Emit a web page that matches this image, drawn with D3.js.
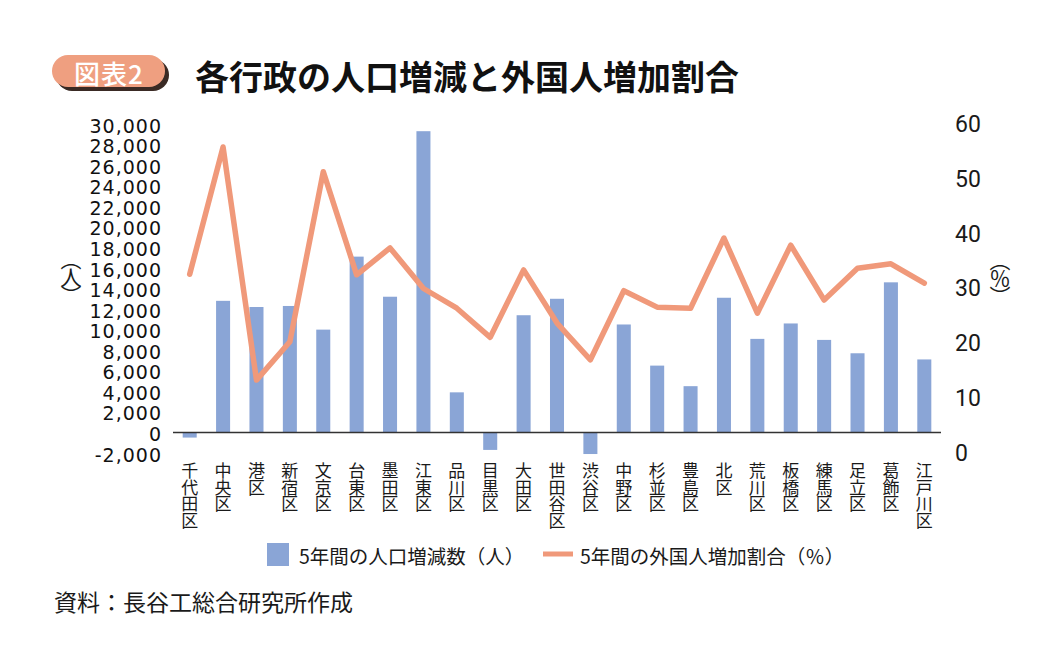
<!DOCTYPE html>
<html>
<head>
<meta charset="utf-8">
<script src="https://cdn.jsdelivr.net/npm/d3@7"></script>
<style>
  body { margin: 0; background: #fff; }
  svg { display: block; }
  .cjk { font-family: "Noto Sans CJK JP", "Noto Sans", sans-serif; }
</style>
</head>
<body>
<svg id="chart" width="1062" height="663"></svg>
<script>
// 区ごとの値
let wards = ["千代田区", "中央区", "港区", "新宿区", "文京区", "台東区", "墨田区", "江東区",
    "品川区", "目黒区", "大田区", "世田谷区", "渋谷区", "中野区", "杉並区", "豊島区", "北区",
    "荒川区", "板橋区", "練馬区", "足立区", "葛飾区", "江戸川区"];
let pop_change = [-500, 12800, 12200, 12300, 10000, 17100, 13200, 29300, 3900, -1700, 11400,
    13000, -2100, 10500, 6500, 4500, 13100, 9100, 10600, 9000, 7700, 14600, 7100];
let foreign_rate = [32.6, 55.8, 13.3, 20.3, 51.3, 32.5, 37.4, 30.0, 26.4, 21.1, 33.4, 23.7,
    17.0, 29.6, 26.6, 26.4, 39.2, 25.5, 37.9, 27.9, 33.7, 34.5, 31.0];
let left_ticks = d3.range(-2000, 30001, 2000);
let right_ticks = [0, 10, 20, 30, 40, 50, 60];

let bar_color = "#8aa5d6";
let line_color = "#f0997a";

let svg = d3.select("#chart");

let x = d3.scaleBand()
    .domain(wards)
    .range([173, 941])
    .paddingInner(0.58)
    .paddingOuter(0.29);
let y_left = d3.scaleLinear().domain([-2000, 30000]).range([453, 124]);
let y_right = d3.scaleLinear().domain([0, 60]).range([453, 124]);

// タイトル
let badge = svg.append("g");
badge.append("rect")
    .attr("x", 56).attr("y", 59).attr("width", 113).attr("height", 32)
    .attr("rx", 16).attr("fill", "#3a2a24");
badge.append("rect")
    .attr("x", 52).attr("y", 55).attr("width", 113).attr("height", 32)
    .attr("rx", 16).attr("fill", "#ef9f80");
badge.append("text")
    .attr("class", "cjk")
    .attr("x", 109).attr("y", 72)
    .attr("text-anchor", "middle")
    .attr("dominant-baseline", "central")
    .attr("fill", "#fff")
    .attr("font-size", 26)
    .attr("font-weight", 500)
    .attr("letter-spacing", 1)
    .text("図表2");

svg.append("text")
    .attr("class", "cjk")
    .attr("x", 195).attr("y", 75)
    .attr("dominant-baseline", "central")
    .attr("font-size", 34)
    .attr("font-weight", 700)
    .attr("fill", "#111")
    .text("各行政の人口増減と外国人増加割合");

// 棒
svg.append("g")
    .selectAll("rect")
    .data(pop_change)
    .enter().append("rect")
        .attr("x", (d, i) => x(wards[i]))
        .attr("width", x.bandwidth())
        .attr("y", d => y_left(Math.max(0, d)))
        .attr("height", d => Math.abs(y_left(d) - y_left(0)))
        .attr("fill", bar_color);

// 左軸
let left_axis = svg.append("g")
    .attr("transform", "translate(164, 2)")
    .call(d3.axisLeft(y_left).tickValues(left_ticks).tickSize(0).tickPadding(2)
        .tickFormat(d => d3.format(",")(d).replace("−", "-")));
left_axis.select(".domain").remove();
left_axis.selectAll("text")
    .attr("font-family", "DejaVu Sans, sans-serif")
    .attr("font-size", 19)
    .attr("letter-spacing", 1)
    .attr("fill", "#111");

// 右軸
let right_axis = svg.append("g")
    .attr("transform", "translate(953, 0)")
    .call(d3.axisRight(y_right).tickValues(right_ticks).tickSize(0).tickPadding(2));
right_axis.select(".domain").remove();
right_axis.selectAll("text")
    .attr("font-family", "Roboto, sans-serif")
    .attr("font-size", 23)
    .attr("fill", "#1a1a1a");

// ゼロ線
svg.append("line")
    .attr("x1", x.range()[0]).attr("x2", x.range()[1])
    .attr("y1", y_left(0)).attr("y2", y_left(0))
    .attr("stroke", "#333").attr("stroke-width", 1.6);

// 折れ線
let rate_line = d3.line()
    .x((d, i) => x(wards[i]) + x.bandwidth() / 2)
    .y(d => y_right(d));
svg.append("path")
    .datum(foreign_rate)
    .attr("d", rate_line)
    .attr("fill", "none")
    .attr("stroke", line_color)
    .attr("stroke-width", 5.5)
    .attr("stroke-linejoin", "round")
    .attr("stroke-linecap", "round");

// 軸の単位
svg.append("text")
    .attr("class", "cjk")
    .attr("x", 71).attr("y", 276)
    .attr("style", "writing-mode: vertical-rl")
    .attr("text-anchor", "middle")
    .attr("font-size", 21)
    .attr("letter-spacing", -3)
    .attr("fill", "#1a1a1a")
    .text("（人）");
svg.append("text")
    .attr("class", "cjk")
    .attr("x", 1000).attr("y", 277)
    .attr("style", "writing-mode: vertical-rl")
    .attr("text-anchor", "middle")
    .attr("font-size", 21)
    .attr("letter-spacing", -3)
    .attr("fill", "#1a1a1a")
    .text("（％）");

// 区名（縦書き、1文字ずつ）
let labels = svg.append("g").attr("class", "cjk");
wards.forEach(w => {
    let cx = x(w) + x.bandwidth() / 2;
    w.split("").forEach((ch, j) => {
        labels.append("text")
            .attr("x", cx)
            .attr("y", 469.5 + j * 16.5)
            .attr("text-anchor", "middle")
            .attr("dominant-baseline", "central")
            .attr("font-size", 17)
            .attr("fill", "#1a1a1a")
            .text(ch);
    });
});

// 凡例
let legend = svg.append("g").attr("class", "cjk");
legend.append("rect")
    .attr("x", 267).attr("y", 543).attr("width", 22).attr("height", 23)
    .attr("fill", bar_color);
legend.append("text")
    .attr("x", 299).attr("y", 555)
    .attr("dominant-baseline", "central")
    .attr("font-size", 19.5)
    .attr("fill", "#1a1a1a")
    .text("5年間の人口増減数（人）");
legend.append("line")
    .attr("x1", 543).attr("x2", 573).attr("y1", 554).attr("y2", 554)
    .attr("stroke", line_color).attr("stroke-width", 5);
legend.append("text")
    .attr("x", 580).attr("y", 555)
    .attr("dominant-baseline", "central")
    .attr("font-size", 19.5)
    .attr("fill", "#1a1a1a")
    .text("5年間の外国人増加割合（％）");

// 出典
svg.append("text")
    .attr("class", "cjk")
    .attr("x", 54).attr("y", 601)
    .attr("dominant-baseline", "central")
    .attr("font-size", 23)
    .attr("fill", "#1a1a1a")
    .text("資料：長谷工総合研究所作成");
</script>
</body>
</html>
